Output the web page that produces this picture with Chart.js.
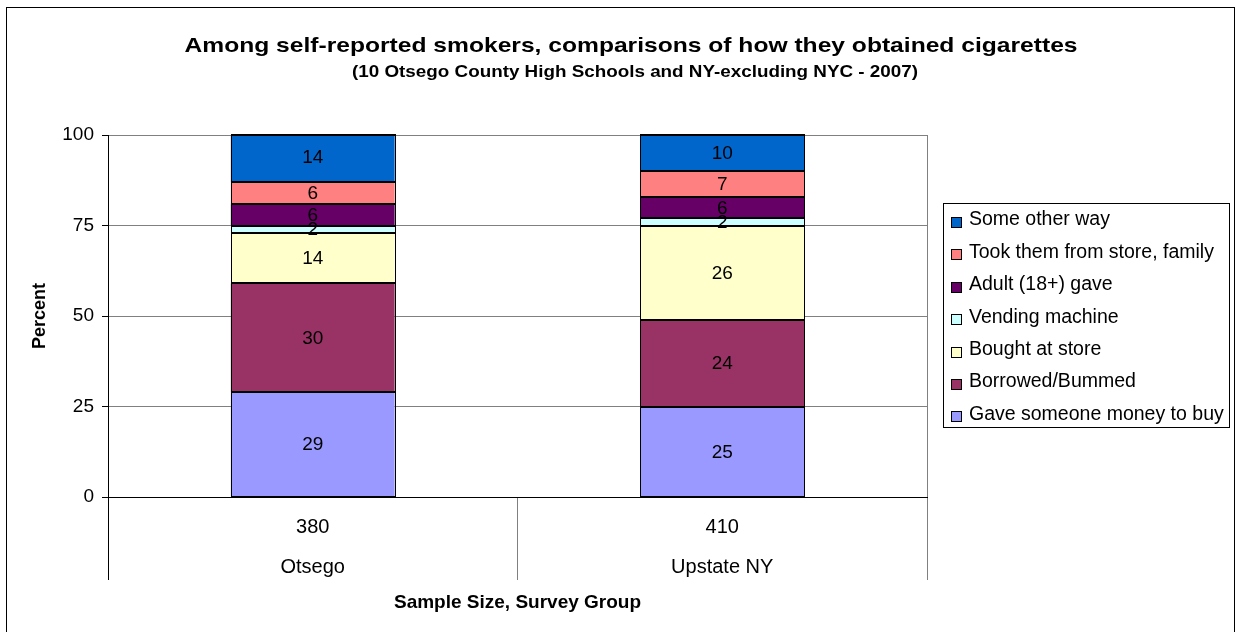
<!DOCTYPE html>
<html>
<head>
<meta charset="utf-8">
<script src="https://cdn.jsdelivr.net/npm/chart.js@4/dist/chart.umd.min.js"></script>
<style>
  html, body { margin: 0; padding: 0; background: #fff; }
  #wrap { width: 1236px; height: 632px; position: relative; }
</style>
</head>
<body>
<div id="wrap"><canvas id="c" width="1236" height="632"></canvas></div>
<script>
// Survey groups and sample sizes
const groups = ['Otsego', 'Upstate NY'];
const sampleSizes = ['380', '410'];

// How smokers obtained cigarettes (bottom of stack first)
const methods = [
  'Gave someone money to buy',
  'Borrowed/Bummed',
  'Bought at store',
  'Vending machine',
  'Adult (18+) gave',
  'Took them from store, family',
  'Some other way'
];

// Percent of self-reported smokers, per method
const otsego  = [29, 30, 14, 2, 6, 6, 14];
const upstate = [25, 24, 26, 2, 6, 7, 10];

const yTicks = [0, 25, 50, 75, 100];

const colors = ['#9999FF', '#993366', '#FFFFCC', '#CCFFFF', '#660066', '#FF8080', '#0066CC'];

const FONT = "'Liberation Sans', Arial, sans-serif";

const datasets = methods.map((m, i) => ({
  label: m,
  data: [otsego[i], upstate[i]],
  backgroundColor: colors[i],
  borderWidth: 0,
  inflateAmount: 0,
  stack: 'all',
  clip: 0
}));

// Draw a line of text widened to a given width, centred on cx
function wideText(ctx, text, font, cx, baseline, width) {
  ctx.save();
  ctx.font = font;
  ctx.textAlign = 'center';
  ctx.textBaseline = 'alphabetic';
  const w = ctx.measureText(text).width;
  ctx.translate(cx, baseline);
  ctx.scale(width / w, 1);
  ctx.fillText(text, 0, 0);
  ctx.restore();
}

// White page with a framed border, plus the heading text
const framePlugin = {
  id: 'frame',
  beforeDraw(chart) {
    const ctx = chart.ctx;
    ctx.save();
    ctx.fillStyle = '#ffffff';
    ctx.fillRect(0, 0, chart.width, chart.height);
    ctx.strokeStyle = '#000000';
    ctx.lineWidth = 1;
    ctx.strokeRect(6.5, 7.5, 1228, 700);
    ctx.fillStyle = '#000000';
    wideText(ctx, 'Among self-reported smokers, comparisons of how they obtained cigarettes',
      'bold 21px ' + FONT, 631, 52, 893);
    wideText(ctx, '(10 Otsego County High Schools and NY-excluding NYC - 2007)',
      'bold 16px ' + FONT, 635, 77, 566);
    ctx.restore();
  },
  beforeDatasetsDraw(chart) {
    // right edge of the plot area
    const a = chart.chartArea;
    const ctx = chart.ctx;
    ctx.save();
    ctx.strokeStyle = '#808080';
    ctx.lineWidth = 1;
    ctx.beginPath();
    ctx.moveTo(Math.round(a.right) + 0.5, a.top);
    ctx.lineTo(Math.round(a.right) + 0.5, a.bottom);
    ctx.stroke();
    ctx.restore();
  }
};

// Crisp black outlines round every stacked segment, then the value labels
const segmentOutlines = {
  id: 'segmentOutlines',
  afterDatasetsDraw(chart) {
    const ctx = chart.ctx;
    const a = chart.chartArea;
    ctx.save();
    ctx.beginPath();
    ctx.rect(a.left - 2, a.top - 1, a.right - a.left + 4, a.bottom - a.top + 2);
    ctx.clip();
    ctx.strokeStyle = '#000000';
    chart.data.datasets.forEach((ds, di) => {
      chart.getDatasetMeta(di).data.forEach((bar) => {
        const p = bar.getProps(['x', 'y', 'base', 'width']);
        const l = Math.round(p.x - p.width / 2);
        const r = Math.round(p.x + p.width / 2);
        const t = Math.max(Math.round(Math.min(p.y, p.base)), Math.round(a.top));
        const b = Math.round(Math.max(p.y, p.base));
        ctx.lineWidth = 1;
        ctx.beginPath();
        ctx.moveTo(l + 0.5, t); ctx.lineTo(l + 0.5, b);
        ctx.moveTo(r + 0.5, t); ctx.lineTo(r + 0.5, b);
        ctx.stroke();
        ctx.lineWidth = 2;
        ctx.beginPath();
        ctx.moveTo(l, t); ctx.lineTo(r + 1, t);
        ctx.moveTo(l, b); ctx.lineTo(r + 1, b);
        ctx.stroke();
      });
    });
    ctx.restore();

    ctx.save();
    ctx.fillStyle = '#000000';
    ctx.font = '19px ' + FONT;
    ctx.textAlign = 'center';
    ctx.textBaseline = 'middle';
    chart.data.datasets.forEach((ds, di) => {
      chart.getDatasetMeta(di).data.forEach((bar, i) => {
        const c = bar.getCenterPoint();
        ctx.fillText(String(ds.data[i]), c.x, c.y + 1);
      });
    });
    ctx.restore();
  }
};

// Boxed legend on the right, top entry = top of stack
const boxLegend = {
  id: 'boxLegend',
  afterDraw(chart) {
    const ctx = chart.ctx;
    const x0 = 943, y0 = 203, w = 286, h = 224;
    ctx.save();
    ctx.strokeStyle = '#000000';
    ctx.lineWidth = 1;
    ctx.strokeRect(x0 + 0.5, y0 + 0.5, w, h);
    ctx.font = '19.5px ' + FONT;
    ctx.textBaseline = 'middle';
    ctx.textAlign = 'left';
    const items = chart.data.datasets.map((d) => ({ label: d.label, color: d.backgroundColor })).reverse();
    items.forEach((it, k) => {
      const cy = y0 + 17 + k * 32.4;
      const my = Math.round(cy - 3) + 0.5;
      ctx.fillStyle = it.color;
      ctx.fillRect(x0 + 8.5, my, 10, 10);
      ctx.strokeStyle = '#000000';
      ctx.strokeRect(x0 + 8.5, my, 10, 10);
      ctx.fillStyle = '#000000';
      ctx.fillText(it.label, x0 + 26, cy);
    });
    ctx.restore();
  }
};

new Chart(document.getElementById('c'), {
  type: 'bar',
  data: {
    labels: groups.map((g, i) => [sampleSizes[i], g]),
    datasets
  },
  plugins: [framePlugin, segmentOutlines, boxLegend],
  options: {
    responsive: false,
    animation: false,
    devicePixelRatio: 1,
    layout: { padding: { left: 0, right: 309, top: 135, bottom: 0 } },
    plugins: {
      legend: { display: false },
      title: { display: false },
      tooltip: { enabled: false }
    },
    datasets: {
      bar: { categoryPercentage: 1, barPercentage: 0.4 }
    },
    scales: {
      x: {
        stacked: true,
        afterFit(s) { s.height = 135; },
        grid: {
          display: true,
          offset: true,
          drawOnChartArea: false,
          drawTicks: true,
          tickLength: 83,
          color: (c) => (c.index === 0 ? '#000000' : '#808080'),
          lineWidth: 1
        },
        border: { display: true, color: '#000000', width: 1 },
        ticks: {
          color: '#000000',
          padding: -73,
          maxRotation: 0,
          font: { family: FONT, size: 20, lineHeight: 2 }
        },
        title: {
          display: true,
          text: 'Sample Size, Survey Group',
          color: '#000000',
          font: { family: FONT, size: 19, weight: 'bold' },
          padding: { top: 0, bottom: 18 }
        }
      },
      y: {
        stacked: true,
        min: 0,
        max: 100,
        afterFit(s) { s.width = 108; },
        afterBuildTicks(s) { s.ticks = yTicks.map(v => ({ value: v })); },
        grid: {
          color: (c) => (c.tick && c.tick.value === 0 ? '#000000' : '#808080'),
          tickColor: '#000000',
          tickLength: 6,
          lineWidth: 1
        },
        border: { display: true, color: '#000000', width: 1 },
        ticks: {
          color: '#000000',
          padding: 8,
          font: { family: FONT, size: 19 }
        },
        title: {
          display: true,
          text: 'Percent',
          color: '#000000',
          font: { family: FONT, size: 18, weight: 'bold' },
          padding: { top: 29, bottom: 0 }
        }
      }
    }
  }
});
</script>
</body>
</html>
